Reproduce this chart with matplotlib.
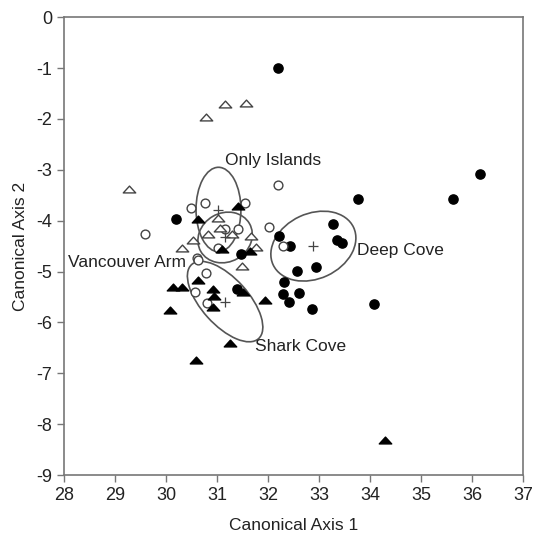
import matplotlib
matplotlib.use("Agg")
import matplotlib.pyplot as plt
from matplotlib.patches import Ellipse
from matplotlib.path import Path

plt.rcParams['font.family'] = ['Liberation Sans', 'DejaVu Sans']
plt.rcParams['axes.unicode_minus'] = False

# Deep Cove (filled circles)
dc_x = [32.2, 36.16, 35.63, 33.77, 33.28, 33.36, 33.46, 32.22, 32.43, 32.56, 32.95,
        32.32, 32.30, 32.61, 32.42, 34.08, 32.86, 30.19, 31.48, 31.40]
dc_y = [-1.0, -3.09, -3.58, -3.58, -4.07, -4.37, -4.43, -4.30, -4.50, -4.99, -4.91,
        -5.20, -5.45, -5.42, -5.59, -5.64, -5.74, -3.97, -4.66, -5.35]

# Vancouver Arm (open circles)
va_x = [32.20, 30.76, 30.50, 31.55, 29.59, 32.03, 31.16, 31.42, 31.03, 32.29,
        30.61, 30.63, 30.78, 30.57, 30.81]
va_y = [-3.30, -3.65, -3.76, -3.65, -4.27, -4.12, -4.17, -4.17, -4.53, -4.50,
        -4.74, -4.77, -5.03, -5.40, -5.61]

# Only Islands (open triangles)
oi_x = [30.78, 31.16, 31.57, 29.28, 31.03, 31.06, 31.30, 30.83, 30.54, 30.31,
        31.67, 31.77, 31.50]
oi_y = [-1.96, -1.71, -1.68, -3.38, -3.95, -4.14, -4.27, -4.26, -4.37, -4.54,
        -4.30, -4.52, -4.90]

# Shark Cove (filled triangles)
sc_x = [30.63, 31.42, 31.09, 31.65, 30.63, 30.14, 30.31, 30.93, 30.95, 31.52,
        30.93, 31.94, 30.08, 31.25, 30.59, 34.29]
sc_y = [-3.96, -3.71, -4.56, -4.59, -5.17, -5.31, -5.31, -5.35, -5.48, -5.40,
        -5.69, -5.56, -5.76, -6.41, -6.73, -8.32]

# group centroids and ellipses
groups = ['Only Islands', 'Vancouver Arm', 'Deep Cove', 'Shark Cove']
cen_x = [31.03, 31.16, 32.89, 31.16]
cen_y = [-3.78, -4.33, -4.50, -5.59]
ell_w = [0.88, 1.10, 1.74, 1.96]
ell_h = [1.66, 0.96, 1.28, 0.92]
ell_a = [0, 30, 25, -48]

# label anchors
lab_x = [31.16, 30.39, 33.75, 31.75]
lab_y = [-2.81, -4.82, -4.58, -6.48]
lab_ha = ['left', 'right', 'left', 'left']

fig = plt.figure(figsize=(5.37, 5.38), dpi=100)
ax = fig.add_axes([0.119, 0.117, 0.855, 0.851])

# flat triangle marker, closed so the outline is complete
tri = Path([(-1, -0.55), (1, -0.55), (0, 0.55), (-1, -0.55)],
           [Path.MOVETO, Path.LINETO, Path.LINETO, Path.CLOSEPOLY])

ax.scatter(dc_x, dc_y, s=44, marker='o', color='black', zorder=3)
ax.scatter(va_x, va_y, s=40, marker='o', facecolors='white', edgecolors='#444444',
           linewidths=1.0, zorder=3)
ax.scatter(oi_x, oi_y, s=80, marker=tri, facecolors='white', edgecolors='#444444',
           linewidths=1.0, zorder=3)
ax.scatter(sc_x, sc_y, s=80, marker=tri, color='black', zorder=3)
ax.scatter(cen_x, cen_y, s=50, marker='+', color='#444444', linewidths=0.9, zorder=4)

for i in range(len(groups)):
    e = Ellipse((cen_x[i], cen_y[i]), ell_w[i], ell_h[i], angle=ell_a[i],
                fill=False, edgecolor='#555555', linewidth=1.2, zorder=2)
    ax.add_patch(e)
    ax.text(lab_x[i], lab_y[i], groups[i], ha=lab_ha[i], va='center',
            fontsize=12.5, color='#222222')

ax.set_xlim(28, 37)
ax.set_ylim(-9, 0)
ax.set_xticks(range(28, 38))
ax.set_yticks(range(-9, 1))
for s in ax.spines.values():
    s.set_color('#777777')
    s.set_linewidth(1.2)
ax.tick_params(direction='out', length=5, width=1.0, color='#777777',
               labelsize=13, labelcolor='#222222', top=False, right=False)
ax.set_xlabel('Canonical Axis 1', fontsize=12.5, color='#222222', labelpad=10)
ax.set_ylabel('Canonical Axis 2', fontsize=12.5, color='#222222', labelpad=6)

fig.savefig('out.png', dpi=100)
